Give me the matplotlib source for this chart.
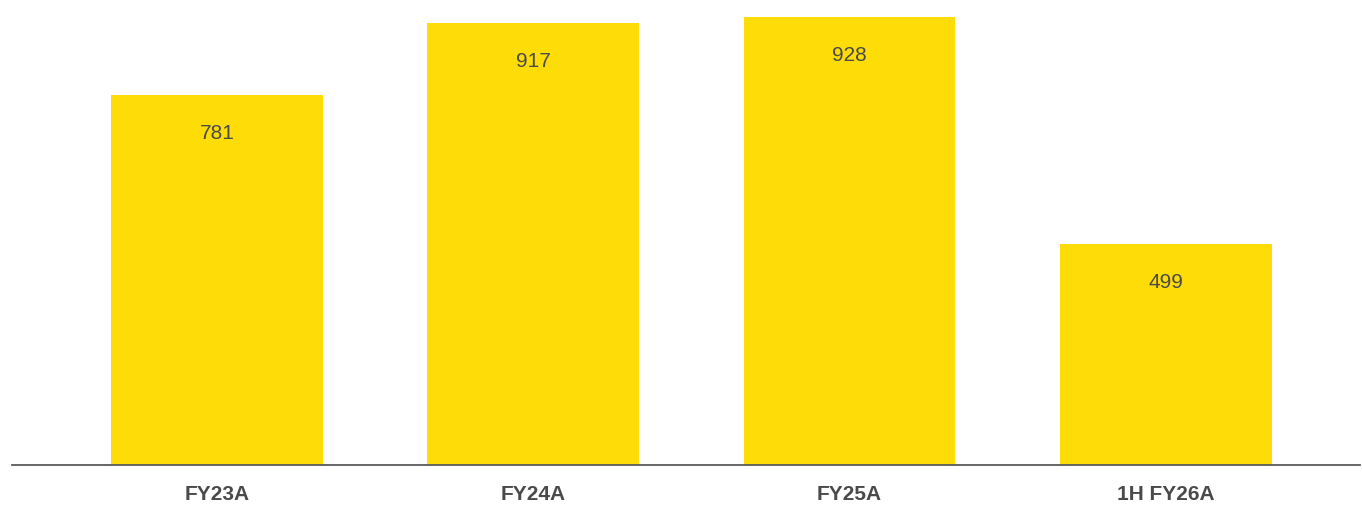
import matplotlib
matplotlib.use('Agg')
import matplotlib.pyplot as plt

categories = ['FY23A', 'FY24A', 'FY25A', '1H FY26A']
values = [781, 917, 928, 499]

bar_color = '#FEDC07'
text_color = '#4a4a4a'

plt.rcParams['font.family'] = ['Liberation Sans', 'DejaVu Sans']

fig = plt.figure(figsize=(13.62, 5.06), dpi=100)
ax = fig.add_axes([12 / 1362, 40 / 506, 1348 / 1362, 466 / 506])

x = list(range(len(categories)))
# the source chart uses a truncated value axis (bars start near 80)
base = 80
ax.bar(x, [v - base for v in values], bottom=base, width=0.67, color=bar_color, zorder=2)

# value labels sit inside the bar, just below the top
for xi, v in zip(x, values):
    ax.annotate(f'{v}', xy=(xi, v), xytext=(0, -27), textcoords='offset points',
                ha='center', va='center', fontsize=15, color=text_color)

ax.set_xlim(-0.648, 3.614)
ax.set_ylim(base, 962)

ax.set_xticks(x)
ax.set_xticklabels(categories, fontsize=15, fontweight='bold', color=text_color)
ax.tick_params(axis='x', length=0, pad=14)
ax.set_yticks([])

for s in ['top', 'right', 'left']:
    ax.spines[s].set_visible(False)
ax.spines['bottom'].set_color('#5a5a5a')
ax.spines['bottom'].set_linewidth(1.3)
ax.spines['bottom'].set_zorder(3)

fig.savefig('out.png', dpi=100)
